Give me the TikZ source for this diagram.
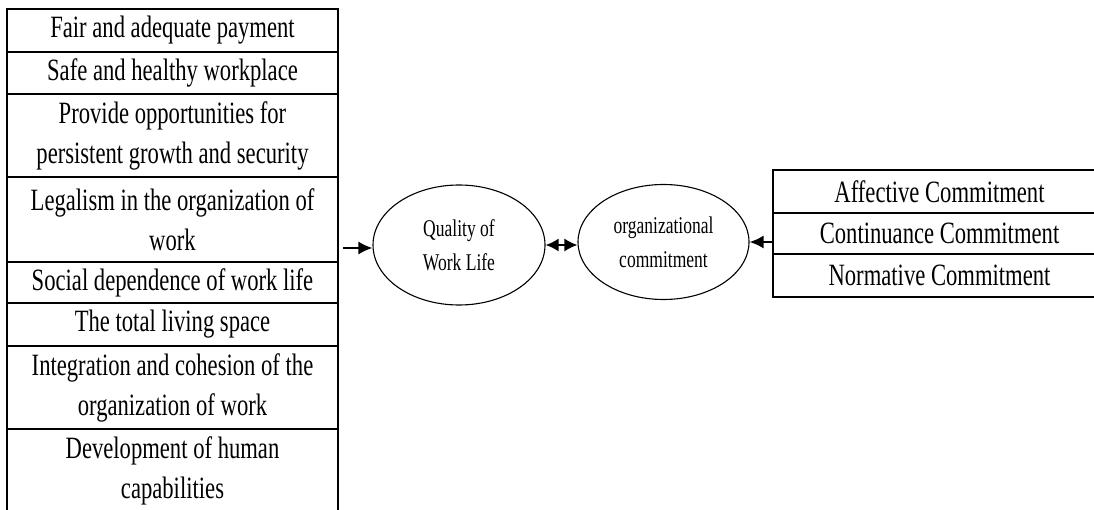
\documentclass[tikz,border=0pt]{standalone}
\usepackage{fontspec}
\setmainfont{Liberation Serif}[FakeStretch=0.73]
\usetikzlibrary{shapes.geometric,arrows.meta}
\tikzset{
  cell/.style={draw=black, line width=1.6pt, rectangle, inner sep=0pt, align=center,
    font=\fontsize{31}{40}\selectfont, text=black},
  lcell/.style={cell, minimum width=331pt},
  rcell/.style={cell, minimum width=333pt},
  oval/.style={draw=black, line width=1.1pt, ellipse, inner sep=0pt, align=center,
    font=\fontsize{24}{34}\selectfont, text=black},
  arr/.style={line width=1.8pt, -{Latex[length=14pt,width=13pt]}},
  darr/.style={line width=1.8pt, {Latex[length=13pt,width=13pt]}-{Latex[length=13pt,width=13pt]}}
}
\begin{document}
\begin{tikzpicture}[x=1pt,y=-1pt]
\useasboundingbox (0,0) rectangle (1094,510);
\clip (0,0) rectangle (1094,510);
\fill[white] (0,0) rectangle (1094,510);
% left column
\node[lcell, minimum height=43pt] (l1) at (172.5,30.5) {Fair and adequate payment};
\node[lcell, minimum height=42pt] (l2) at (172.5,73) {Safe and healthy workplace};
\node[lcell, minimum height=83pt] (l3) at (172.5,135.5) {Provide opportunities for\\persistent growth and security};
\node[lcell, minimum height=85pt] (l4) at (172.5,219.5) {Legalism in the organization of\\work};
\node[lcell, minimum height=41pt] (l5) at (172.5,282.5) {Social dependence of work life};
\node[lcell, minimum height=43pt] (l6) at (172.5,324.5) {The total living space};
\node[lcell, minimum height=83pt] (l7) at (172.5,387.5) {Integration and cohesion of the\\organization of work};
\node[lcell, minimum height=83pt] (l8) at (172.5,470.5) {Development of human\\capabilities};
% ellipses
\node[oval, minimum width=172pt, minimum height=120pt] (qwl) at (459,245) {Quality of\\Work Life};
\node[oval, minimum width=171pt, minimum height=115pt] (oc) at (663.5,242) {organizational\\commitment};
% right column
\node[rcell, minimum height=43pt] (r1) at (939.5,191.5) {Affective Commitment};
\node[rcell, minimum height=41pt] (r2) at (939.5,233.5) {Continuance Commitment};
\node[rcell, minimum height=43pt] (r3) at (939.5,275.5) {Normative Commitment};
% connectors
\coordinate (lin) at (343,248);
\draw[arr] (lin) -- (lin -| qwl.west);
\draw[darr] (qwl.east) -- (qwl.east -| oc.west);
\draw[arr] (oc.east -| r2.west) -- (oc.east);
\end{tikzpicture}
\end{document}
